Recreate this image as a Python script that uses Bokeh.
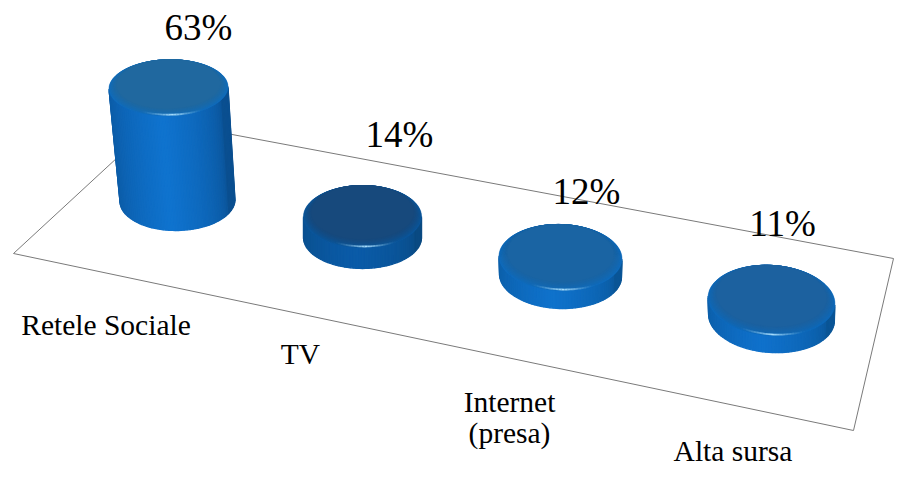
import numpy as np
from bokeh.plotting import figure
from bokeh.models import Range1d
from bokeh.core.properties import value
from bokeh.embed import file_html
from bokeh.resources import INLINE

categories = ["Retele Sociale", "TV", "Internet\n(presa)", "Alta sursa"]
values = [63, 14, 12, 11]

# layout of the 3D scene (image pixels)
floor_x = [13, 157, 893, 853, 13]
floor_y = [253, 120, 258, 430, 253]
base_x = [177, 362, 560, 771]
base_y = [200, 237, 275, 317]
top_x = [168, 362, 560, 771]
rx_top = [59.5, 59, 61.5, 63.5]
ry_top = [28, 31, 33, 35]
rx_base = [57.5, 59, 61, 63]
ry_base = [30, 31, 33, 35]
scale = [1.79, 1.5, 1.5, 1.55]
tilt = [-0.02, 0.0, 0.03, 0.07]
face_col = ["#20689f", "#17497c", "#1a64a3", "#1c619f"]
rim_col = ["#0f6cbd", "#0a569c", "#0e6bbd", "#0d69bb"]
side_mid = ["#0f73cf", "#0a5ba8", "#0f72cc", "#0f71cc"]
side_edge = ["#0a4f90", "#0a4a82", "#0a5596", "#0a5596"]
val_x = [198, 399, 586, 782]
val_y = [26.5, 133.5, 190.5, 222.5]
cat_x = [105.5, 300, 509, 732.5]
cat_y = [[324.5], [353.5], [401.5, 432.5], [450.5]]


def mix(a, b, t):
    ca = [int(a[i:i + 2], 16) for i in (1, 3, 5)]
    cb = [int(b[i:i + 2], 16) for i in (1, 3, 5)]
    return "#%02x%02x%02x" % tuple(int(round(x + (y - x) * t)) for x, y in zip(ca, cb))


def ell(cx, cy, rx, ry, ang, t):
    x, y = rx * np.cos(t), ry * np.sin(t)
    return cx + x * np.cos(ang) - y * np.sin(ang), cy + x * np.sin(ang) + y * np.cos(ang)


p = figure(width=906, height=469, x_range=Range1d(0, 906), y_range=Range1d(469, 0),
           output_backend="svg", toolbar_location=None, min_border=0,
           background_fill_color="white", border_fill_color="white")
p.axis.visible = False
p.grid.visible = False
p.outline_line_color = None

p.line(floor_x, floor_y, line_color="#7a7a7a", line_width=1)

full = np.linspace(0, 2 * np.pi, 121)
for i, v in enumerate(values):
    h = v * scale[i]
    ty = base_y[i] - h
    # side wall drawn as thin vertical strips following the front half of both rims
    n = 60
    us = np.linspace(np.pi, 0, n + 1)
    for j in range(n):
        t0, t1 = us[j], us[j + 1]
        ax0, ay0 = ell(top_x[i], ty, rx_top[i], ry_top[i], tilt[i], t0)
        ax1, ay1 = ell(top_x[i], ty, rx_top[i], ry_top[i], tilt[i], t1)
        bx0, by0 = ell(base_x[i], base_y[i], rx_base[i], ry_base[i], tilt[i], t0)
        bx1, by1 = ell(base_x[i], base_y[i], rx_base[i], ry_base[i], tilt[i], t1)
        u = np.cos((t0 + t1) / 2)
        shade = (1 - abs(u + 0.1)) ** 0.45 if abs(u + 0.1) < 1 else 0
        c = mix(side_edge[i], side_mid[i], shade)
        p.patch([ax0, ax1, bx1, bx0], [ay0, ay1, by1, by0], fill_color=c, line_color=c, line_width=1.3)
    # bevelled top face
    rings = 14
    for r in range(rings + 1):
        f = r / rings
        s = 1 - 0.13 * f
        cy = ty - 0.13 * ry_top[i] * f
        ex, ey = ell(top_x[i], cy, rx_top[i] * s, ry_top[i] * s, tilt[i], full)
        c = mix(rim_col[i], face_col[i], f ** 0.7)
        p.patch(ex, ey, fill_color=c, line_color=c, line_width=0.5)
    # specular highlight on the front of the rim
    hl = np.linspace(np.pi * 0.68, np.pi * 0.32, 25)
    hx, hy = ell(top_x[i] + 2, ty - 1, rx_top[i] * 0.98, ry_top[i] * 1.0, tilt[i], hl)
    for j in range(len(hl) - 1):
        a = (1 - abs(j - 12) / 12) ** 1.5
        p.line(hx[j:j + 2], hy[j:j + 2], line_color="#a5dcfc", line_alpha=a, line_width=1.8)

p.text(val_x, val_y, text=[f"{v}%" for v in values], text_font=value("Liberation Serif"),
       text_font_size="37px", text_color="#000000", text_align="center", text_baseline="alphabetic")

lab_x, lab_y, lab_t = [], [], []
for i, c in enumerate(categories):
    for line, y in zip(c.split("\n"), cat_y[i]):
        lab_x.append(cat_x[i]); lab_y.append(y); lab_t.append(line)
p.text(lab_x, lab_y, text=lab_t, text_font=value("Liberation Serif"), text_font_size="29.5px",
       text_color="#000000", text_align="center", text_baseline="alphabetic")

open("out.html", "w").write(file_html(p, INLINE))
